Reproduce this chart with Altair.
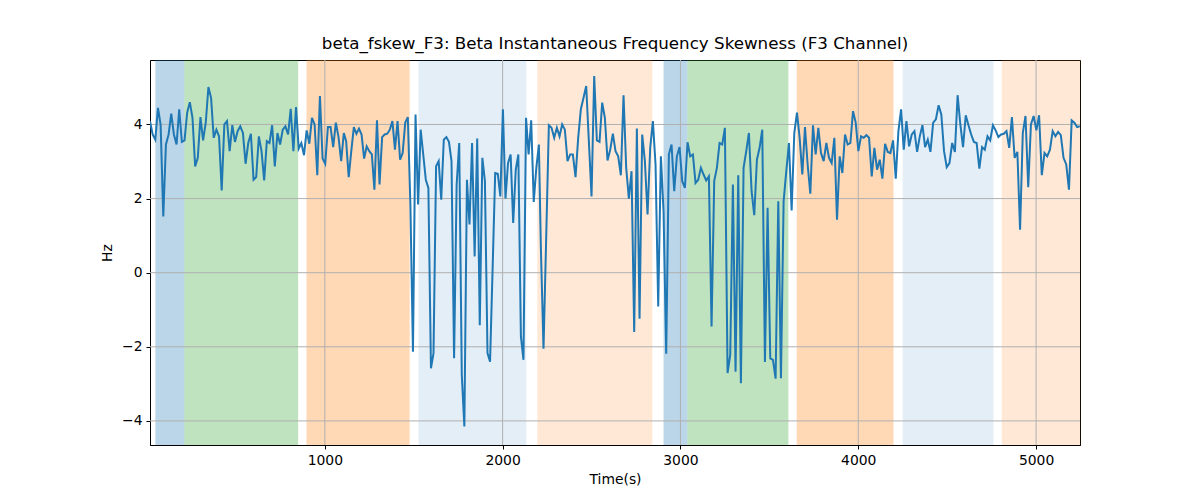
import altair as alt
import pandas as pd
import numpy as np

# ---- line series, read in five consecutive time segments ----
seg1_range = (17, 1107)
seg1 = [4.09, 3.73, 3.59, 4.45, 4.00, 1.52, 3.46, 3.73, 4.29, 3.73, 3.46, 4.41, 3.53, 3.57, 4.32,
        4.60, 4.18, 2.87, 3.10, 4.20, 3.57, 4.05, 5.01, 4.72, 3.64, 3.86, 3.68, 2.22, 4.00, 4.09,
        3.28, 3.98, 3.53, 3.82, 3.95, 3.77, 2.94, 3.50, 3.75, 2.51, 2.58, 3.68, 3.28, 2.49, 3.55,
        3.50, 3.98, 2.87, 3.77, 3.46, 3.86, 3.95, 3.73, 4.42, 3.28, 4.47, 3.35, 3.50, 3.17, 3.84,
        3.48, 4.18, 4.00, 2.63, 4.77, 3.08, 2.94, 3.93, 3.93, 3.39, 4.05, 3.66, 3.01, 3.77]

seg2_range = (1120, 2204)
seg2 = [3.55, 2.58, 3.28, 3.93, 3.75, 3.89, 3.73, 3.08, 3.41, 3.28, 3.19, 2.24, 4.11, 2.38, 3.66,
        3.73, 3.75, 3.86, 4.09, 3.32, 4.09, 3.05, 3.23, 4.05, 4.20, 1.84, -2.13, 4.27, 1.84, 3.86,
        3.19, 2.51, 2.29, -2.58, -2.17, 2.87, 3.01, 1.97, 3.59, 3.66, 3.53, 3.01, -2.31, 2.38, 3.50,
        -2.76, -4.15, 2.51, 1.30, 3.50, 0.44, 3.62, -1.42, 3.10, 2.47, -2.17, -2.40, 0.13, 2.69, 2.67,
        2.06, 4.41, 2.00, 2.96, 3.19, 1.34, 2.78, 3.19, -1.72, -2.35, 4.18, 3.19, 4.11, 1.91, 2.83,
        3.46]

seg3_range = (2215, 3295)
seg3 = [0.70, -2.05, 0.94, 3.98, 3.91, 3.64, 3.91, 3.68, 4.00, 3.86, 3.01, 3.19, 3.19, 2.58, 3.64,
        4.41, 4.72, 5.04, 3.55, 2.06, 5.31, 3.57, 3.53, 4.59, 4.18, 3.03, 3.32, 3.75, 3.28, 3.14,
        2.63, 4.79, 2.83, 2.00, 2.74, -1.60, 3.89, -1.24, 3.73, 3.01, 1.57, 3.37, 4.09, 2.92, -0.91,
        3.14, 1.66, -2.19, 3.19, 3.46, 2.20, 3.14, 3.39, 2.47, 2.29, 3.52, 3.14, 3.19, 2.42, 2.51,
        2.83, 2.65, 2.49, 2.60, -1.45, 2.47, 2.83, 3.50, 3.46, 3.91, -2.71, -2.22, 2.38]

seg4_range = (3310, 4391)
seg4 = [-2.67, 2.63, -2.98, 2.83, 3.28, 3.77, 2.20, 1.55, 3.05, 3.37, 3.86, -2.41, 1.75, -2.31, -2.35,
        -2.86, 1.93, -2.85, 1.93, 2.74, 3.50, 1.68, 3.77, 4.32, 3.64, 2.65, 3.93, 2.92, 2.13, 3.98,
        3.19, 3.91, 3.23, 3.01, 3.50, 3.10, 2.96, 3.64, 1.43, 3.14, 2.69, 3.73, 3.46, 3.50, 4.36,
        4.05, 3.28, 3.68, 3.64, 3.71, 3.64, 2.60, 3.37, 2.78, 3.05, 2.54, 3.48, 3.26, 3.23, 3.57,
        2.54, 3.82, 4.41, 3.32, 4.09, 3.41, 3.73, 3.82, 3.26, 3.68, 3.98, 3.39, 3.59]

seg5_range = (4406, 5246)
seg5 = [3.26, 4.05, 4.14, 4.52, 4.27, 3.28, 2.85, 2.96, 3.50, 3.26, 4.79, 4.00, 3.39, 4.25, 3.98,
        3.73, 3.53, 3.50, 2.81, 3.39, 3.32, 3.68, 3.57, 3.98, 3.84, 3.66, 3.73, 3.75, 3.82, 3.37,
        4.20, 3.10, 3.26, 1.16, 3.77, 4.23, 2.31, 4.00, 4.23, 3.84, 4.25, 2.63, 3.23, 3.14, 3.32,
        3.82, 3.68, 3.80, 3.71, 3.10, 2.92, 2.24, 4.11, 4.05, 3.93, 3.95]

# ---- shaded phases ----
span_start = [47, 210, 897, 1527, 2195, 2905, 3039, 3654, 4250, 4807]
span_end = [210, 850, 1477, 2133, 2842, 3039, 3607, 4198, 4760, 5250]
span_kind = ["A", "B", "C", "D", "E", "A", "B", "C", "D", "E"]

x_ticks = [1000, 2000, 3000, 4000, 5000]
y_ticks = [-4, -2, 0, 2, 4]

kind_color = {"A": "#1f77b4", "B": "#2ca02c", "C": "#ff7f0e", "D": "#1f77b4", "E": "#ff7f0e"}
kind_opacity = {"A": 0.3, "B": 0.3, "C": 0.3, "D": 0.12, "E": 0.17}

frames = []
for rng, vals in [(seg1_range, seg1), (seg2_range, seg2), (seg3_range, seg3),
                  (seg4_range, seg4), (seg5_range, seg5)]:
    frames.append(pd.DataFrame({"t": np.linspace(rng[0], rng[1], len(vals)), "v": vals}))
line_df = pd.concat(frames, ignore_index=True)

span_df = pd.DataFrame({"start": span_start, "end": span_end, "kind": span_kind})
span_df["color"] = span_df["kind"].map(kind_color)
span_df["op"] = span_df["kind"].map(kind_opacity)

xdom = [17, 5247]
ydom = [-4.65, 5.74]
xs = alt.Scale(domain=xdom, nice=False, zero=False)
ys = alt.Scale(domain=ydom, nice=False, zero=False)

spans = alt.Chart(span_df).mark_rect().encode(
    x=alt.X("start:Q", scale=xs),
    x2="end:Q",
    color=alt.Color("color:N", scale=None),
    opacity=alt.Opacity("op:Q", scale=None),
)

xgrid = alt.Chart(pd.DataFrame({"g": x_ticks})).mark_rule(color="#b0b0b0", strokeWidth=1).encode(
    x=alt.X("g:Q", scale=xs))
ygrid = alt.Chart(pd.DataFrame({"g": y_ticks})).mark_rule(color="#b0b0b0", strokeWidth=1).encode(
    y=alt.Y("g:Q", scale=ys))

line = alt.Chart(line_df).mark_line(color="#1f77b4", strokeWidth=2, clip=True).encode(
    x=alt.X("t:Q", scale=xs, title="Time(s)",
            axis=alt.Axis(values=x_ticks, format="d", grid=False)),
    y=alt.Y("v:Q", scale=ys, title="Hz",
            axis=alt.Axis(values=y_ticks, format="d", grid=False)),
)

chart = alt.layer(spans, xgrid, ygrid, line).properties(
    width=930, height=385,
    title=alt.TitleParams(
        "beta_fskew_F3: Beta Instantaneous Frequency Skewness (F3 Channel)",
        fontSize=16.7, fontWeight="normal", font="DejaVu Sans", color="black", offset=7),
    autosize=alt.AutoSizeParams(type="none"),
    padding={"left": 142, "top": 52, "right": 80, "bottom": 47},
).configure_view(stroke="black", strokeWidth=1).configure_axis(
    labelFont="DejaVu Sans", titleFont="DejaVu Sans", labelFontSize=13.9, titleFontSize=13.9,
    labelColor="black", titleColor="black", titleFontWeight="normal",
    domainColor="black", tickColor="black", tickSize=4, labelPadding=4,
    domainWidth=1, tickWidth=1,
).configure_axisY(titlePadding=7).configure_axisX(titlePadding=6)

chart.save("out.html", embed_options={"renderer": "svg", "actions": False})
